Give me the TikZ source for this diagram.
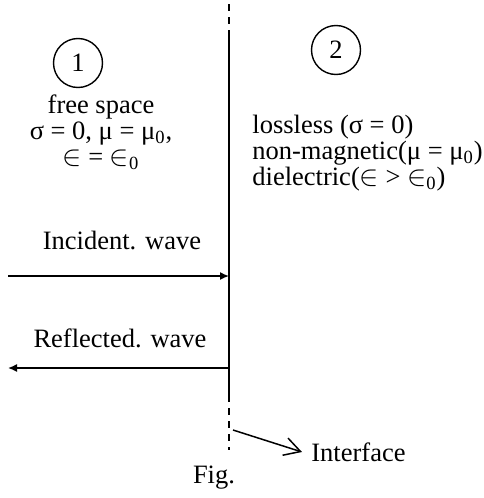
\documentclass[tikz,border=0pt]{standalone}
\usepackage{fontspec}
\setmainfont{Liberation Serif}
\usepackage{tikz}
\usetikzlibrary{arrows.meta}

\tikzset{
  label/.style={inner sep=1pt},
  region/.style={line width=0.7pt},
  wave/.style={line width=0.75pt, -{Latex[length=4.5pt,width=4pt]}},
  iface/.style={line width=1pt},
  ifacedash/.style={line width=1pt, dash pattern=on 3.5pt off 3pt},
  pointer/.style={line width=0.75pt, -{Straight Barb[length=8pt,width=9pt]}}
}

\begin{document}
\begin{tikzpicture}[x=0.5pt, y=-0.5pt, font=\fontsize{13.25}{15}\selectfont]
            \useasboundingbox (0,0) rectangle (483,498);
            \coordinate (topA) at (229,4);
            \coordinate (topB) at (229,33);
            \coordinate (botB) at (229,395);
            \coordinate (botA) at (229,450);
            \draw[ifacedash] (topA) -- (topB);
            \draw[iface] (topB) -- (botB);
            \draw[ifacedash] (botB) -- (botA);
            \node[label] (one) at (78,63) {1};
            \node[label] (two) at (336,50) {2};
            \draw[region] (one.center) circle (24.5);
            \draw[region] (two.center) circle (24.5);
            \node[label, align=center, font=\fontsize{13.25}{13}\selectfont] (free) at (101,132)
              {free space\\σ = 0, μ = μ\textsubscript{0},\\$\in$ = $\in$\textsubscript{0}};
            \node[label, align=left, anchor=west, font=\fontsize{13.25}{11.75}\selectfont] (loss) at (250,153)
              {lossless (σ = 0)\\non-magnetic(μ = μ\textsubscript{0})\\dielectric($\in$ > $\in$\textsubscript{0})};
            \coordinate (incL) at (8,276);
            \coordinate (incR) at (229,276);
            \coordinate (refR) at (229,368);
            \coordinate (refL) at (8,368);
            \node[label] (inc) at (122,240) {Incident. wave};
            \node[label] (ref) at (120,338) {Reflected. wave};
            \draw[wave] (incL) -- (incR);
            \draw[wave] (refR) -- (refL);
            \coordinate (ptr) at (233,430);
            \node[label, inner sep=4.5pt, anchor=west] (lab) at (302,452) {Interface};
            \draw[pointer] (ptr) -- (lab.west);
            \node[label] (fig) at (214,478) {Fig.};
        \end{tikzpicture}
\end{document}
